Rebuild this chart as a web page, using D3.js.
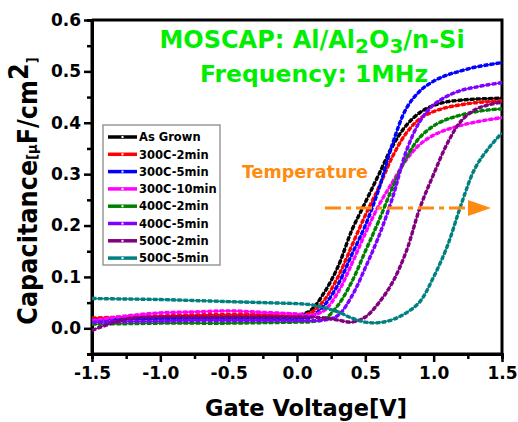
<!DOCTYPE html>
<html>
<head>
<meta charset="utf-8">
<script src="https://cdn.jsdelivr.net/npm/d3@7/dist/d3.min.js"></script>
<style>
  html, body { margin: 0; padding: 0; background: #fff; }
  svg { display: block; }
  text { font-family: "DejaVu Sans", sans-serif; font-weight: bold; }
</style>
</head>
<body>
<svg id="chart" width="518" height="422"></svg>
<script>
// ---- data ----
const voltages = [-1.5,-1.25,-1.0,-0.75,-0.5,-0.25,0,0.1,0.2,0.3,0.4,0.5,0.6,0.7,0.8,0.9,1.0,1.1,1.2,1.3,1.4,1.5];
const seriesNames = ["As Grown","300C-2min","300C-5min","300C-10min","400C-2min","400C-5min","500C-2min","500C-5min"];
const seriesColors = ["#000000","#ff0000","#0000ff","#ff00ff","#008000","#8000ff","#800080","#008080"];
const asGrown  = [0.018,0.020,0.021,0.022,0.022,0.022,0.025,0.035,0.070,0.120,0.190,0.245,0.300,0.355,0.395,0.420,0.434,0.441,0.444,0.446,0.447,0.448];
const c300_2   = [0.020,0.022,0.024,0.026,0.027,0.027,0.025,0.030,0.055,0.100,0.160,0.220,0.275,0.335,0.380,0.408,0.422,0.430,0.435,0.439,0.441,0.443];
const c300_5   = [0.016,0.017,0.018,0.018,0.018,0.018,0.018,0.022,0.045,0.085,0.143,0.200,0.272,0.360,0.428,0.462,0.481,0.493,0.501,0.508,0.513,0.517];
const c300_10  = [0.015,0.024,0.030,0.032,0.034,0.031,0.028,0.026,0.035,0.070,0.125,0.185,0.240,0.285,0.328,0.358,0.376,0.387,0.395,0.401,0.406,0.410];
const c400_2   = [0.008,0.009,0.010,0.010,0.010,0.011,0.012,0.013,0.018,0.045,0.090,0.150,0.210,0.275,0.332,0.372,0.394,0.407,0.415,0.421,0.425,0.427];
const c400_5   = [0.012,0.013,0.014,0.015,0.015,0.015,0.015,0.015,0.016,0.025,0.062,0.118,0.180,0.255,0.345,0.403,0.435,0.452,0.463,0.469,0.474,0.478];
const c500_2   = [-0.004,0.018,0.022,0.022,0.022,0.022,0.022,0.022,0.020,0.016,0.012,0.022,0.050,0.090,0.150,0.235,0.300,0.360,0.403,0.425,0.435,0.440];
const c500_5   = [0.058,0.057,0.056,0.054,0.052,0.050,0.048,0.046,0.040,0.032,0.020,0.012,0.011,0.017,0.030,0.052,0.100,0.160,0.240,0.310,0.350,0.380];
const seriesValues = [asGrown,c300_2,c300_5,c300_10,c400_2,c400_5,c500_2,c500_5];
const xTicks = [-1.5,-1.0,-0.5,0.0,0.5,1.0,1.5];
const xTickLabels = ["-1.5","-1.0","-0.5","0.0","0.5","1.0","1.5"];
const xMinor = [-1.25,-0.75,-0.25,0.25,0.75,1.25];
const yTicks = [0.0,0.1,0.2,0.3,0.4,0.5,0.6];
const yTickLabels = ["0.0","0.1","0.2","0.3","0.4","0.5","0.6"];
const yMinor = [-0.05,0.05,0.15,0.25,0.35,0.45,0.55];

// ---- layout ----
const L = 92, R = 502, T = 20, B = 354;
const svg = d3.select("#chart");
const x = d3.scaleLinear().domain([-1.5, 1.5]).range([L, R]);
const y = d3.scaleLinear().domain([-0.05, 0.6]).range([B, T]);

svg.append("defs").append("clipPath").attr("id","clip")
  .append("rect").attr("x", L).attr("y", T).attr("width", R - L).attr("height", B - T);

// frame (top, right)
svg.append("path")
  .attr("d", `M${L},${T} H${R} V${B}`)
  .attr("fill","none").attr("stroke","#000").attr("stroke-width",3);

// axes
const gx = svg.append("g").attr("transform", `translate(0,${B})`)
  .call(d3.axisBottom(x).tickValues(xTicks).tickSize(8).tickPadding(5)
        .tickFormat((d,i) => xTickLabels[i]));
const gxm = svg.append("g").attr("transform", `translate(0,${B})`)
  .call(d3.axisBottom(x).tickValues(xMinor).tickSize(5).tickFormat(""));
const gy = svg.append("g").attr("transform", `translate(${L},0)`)
  .call(d3.axisLeft(y).tickValues(yTicks).tickSize(8).tickPadding(3)
        .tickFormat((d,i) => yTickLabels[i]));
const gym = svg.append("g").attr("transform", `translate(${L},0)`)
  .call(d3.axisLeft(y).tickValues(yMinor).tickSize(5).tickFormat(""));
[gx,gxm,gy,gym].forEach(g => {
  g.select(".domain").attr("stroke","#000").attr("stroke-width",3);
  g.selectAll(".tick line").attr("stroke","#000").attr("stroke-width",2.5);
  g.selectAll(".tick text").attr("fill","#000")
    .style("font-family","DejaVu Sans").style("font-weight","bold").style("font-size","17px");
});
gx.select(".domain").attr("d", `M${L},0H${R}`);
gy.select(".domain").attr("d", `M0,${B}V${T}`);

// curves
const plot = svg.append("g").attr("clip-path","url(#clip)");
const line = d3.line().x(d => x(d[0])).y(d => y(d[1])).curve(d3.curveCatmullRom.alpha(0.5));
seriesValues.forEach((vals, i) => {
  const pts = voltages.map((v, k) => [v, vals[k]]);
  plot.append("path").attr("d", line(pts)).attr("fill","none")
    .attr("stroke", seriesColors[i]).attr("stroke-width", 1.6);
  plot.append("path").attr("d", line(pts)).attr("fill","none")
    .attr("stroke", seriesColors[i]).attr("stroke-width", 3.4)
    .attr("stroke-dasharray","4.5,1.6");
});

// axis titles
svg.append("text").attr("x", 306).attr("y", 416).attr("text-anchor","middle")
  .style("font-size","22.5px").attr("fill","#000").text("Gate Voltage[V]");

const yt = svg.append("text").attr("text-anchor","middle")
  .attr("transform","translate(37,191) rotate(-90) scale(1,1.08)")
  .style("font-size","24px").attr("fill","#000");
yt.append("tspan").text("Capacitance");
yt.append("tspan").style("font-size","13px").text("[μ");
yt.append("tspan").text("F/cm");
yt.append("tspan").attr("dy",-8).text("2");
yt.append("tspan").attr("dy",8).style("font-size","13px").text("]");

// title
const t1 = svg.append("text").attr("x", 312).attr("y", 48).attr("text-anchor","middle")
  .style("font-size","24px").attr("fill","#00ee00");
t1.append("tspan").text("MOSCAP: Al/Al");
t1.append("tspan").attr("dy",5).style("font-size","20px").text("2");
t1.append("tspan").attr("dy",-5).text("O");
t1.append("tspan").attr("dy",5).style("font-size","20px").text("3");
t1.append("tspan").attr("dy",-5).text("/n-Si");
svg.append("text").attr("x", 314).attr("y", 82).attr("text-anchor","middle")
  .style("font-size","23.5px").attr("fill","#00ee00").text("Frequency: 1MHz");

// temperature annotation
svg.append("text").attr("x", 242).attr("y", 178)
  .style("font-size","17.5px").attr("fill","#ff8a10").text("Temperature");
svg.append("line").attr("x1", 325).attr("y1", 208).attr("x2", 470).attr("y2", 208)
  .attr("stroke","#ff8a10").attr("stroke-width",3.2).attr("stroke-dasharray","16,5,5,5");
svg.append("path").attr("d","M468,200 L491,208 L468,216 Z").attr("fill","#ff8a10");

// legend
const lg = svg.append("g");
lg.append("rect").attr("x",103).attr("y",125).attr("width",117).attr("height",140)
  .attr("fill","#fff").attr("stroke","#999").attr("stroke-width",1.5);
seriesNames.forEach((name, i) => {
  const yy = 137 + i * 17.3;
  lg.append("line").attr("x1",108).attr("x2",137).attr("y1",yy).attr("y2",yy)
    .attr("stroke", seriesColors[i]).attr("stroke-width",3.5);
  lg.append("rect").attr("x",121.5).attr("y",yy-1).attr("width",2).attr("height",2).attr("fill","#fff");
  lg.append("text").attr("x",139).attr("y",yy+4.2).style("font-size","11.5px")
    .attr("fill","#000").text(name);
});
</script>
</body>
</html>
